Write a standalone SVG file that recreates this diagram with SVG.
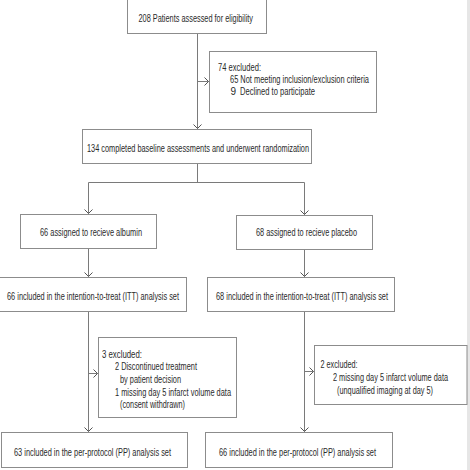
<svg xmlns="http://www.w3.org/2000/svg" width="470" height="470" viewBox="0 0 470 470">
<defs>
<style>
.box{fill:#fff;stroke:#8c8c8c;stroke-width:1}
.ln{fill:none;stroke:#7a7a7a;stroke-width:1}
text{font-family:"Liberation Sans",Arial,sans-serif;font-size:10px;fill:#2a2a2a}
</style>
<marker id="ah" markerUnits="userSpaceOnUse" markerWidth="12" markerHeight="12" viewBox="-6 -6 12 12" refX="0" refY="0" orient="auto">
<path d="M-4,-4 L0,0 L-4,4" fill="none" stroke="#555" stroke-width="1"/>
</marker>
</defs>
<rect x="0" y="0" width="470" height="470" fill="#fff"/>
<rect x="467" y="0" width="3" height="470" fill="#e6e6e6"/>
<g id="connectors">
<path class="ln" d="M197.5 33.5 V128.5" marker-end="url(#ah)"/>
<path class="ln" d="M197.5 81.5 H208.5" marker-end="url(#ah)"/>
<path class="ln" d="M197.5 163.5 V182.5 M88.5 182.5 H304.5"/>
<path class="ln" d="M88.5 182.5 V213.5" marker-end="url(#ah)"/>
<path class="ln" d="M304.5 182.5 V214.5" marker-end="url(#ah)"/>
<path class="ln" d="M88.5 248.5 V276.5" marker-end="url(#ah)"/>
<path class="ln" d="M304.5 249.5 V276.5" marker-end="url(#ah)"/>
<path class="ln" d="M88.5 311.5 V431.5" marker-end="url(#ah)"/>
<path class="ln" d="M88.5 373.5 H97.5" marker-end="url(#ah)"/>
<path class="ln" d="M304.5 311.5 V431.5" marker-end="url(#ah)"/>
<path class="ln" d="M304.5 371.5 H313.5" marker-end="url(#ah)"/>
</g>
<g id="assessed">
<rect class="box" x="127.5" y="-1" width="139" height="34.5"/>
<text x="138.5" y="21.5" textLength="114.5" lengthAdjust="spacingAndGlyphs">208 Patients assessed for eligibility</text>
</g>
<g id="excluded1">
<rect class="box" x="209.5" y="51.5" width="167" height="61"/>
<text x="218" y="71" textLength="43" lengthAdjust="spacingAndGlyphs">74 excluded:</text>
<text x="230" y="83" textLength="139" lengthAdjust="spacingAndGlyphs">65 Not meeting inclusion/exclusion criteria</text>
<text x="230.5" y="95">9</text>
<text x="240" y="95" textLength="75" lengthAdjust="spacingAndGlyphs">Declined to participate</text>
</g>
<g id="randomized">
<rect class="box" x="82.5" y="129.5" width="229" height="34"/>
<text x="87" y="151.5" textLength="222" lengthAdjust="spacingAndGlyphs">134 completed baseline assessments and underwent randomization</text>
</g>
<g id="albumin">
<rect class="box" x="20.5" y="214.5" width="136" height="34"/>
<text x="40" y="235.5" textLength="102" lengthAdjust="spacingAndGlyphs">66 assigned to recieve albumin</text>
</g>
<g id="placebo">
<rect class="box" x="236.5" y="215.5" width="136" height="34"/>
<text x="256" y="235.5" textLength="101" lengthAdjust="spacingAndGlyphs">68 assigned to recieve placebo</text>
</g>
<g id="ittL">
<rect class="box" x="-1" y="277.5" width="187.5" height="34"/>
<text x="7" y="299.5" textLength="172" lengthAdjust="spacingAndGlyphs">66 included in the intention-to-treat (ITT) analysis set</text>
</g>
<g id="ittR">
<rect class="box" x="207.5" y="277.5" width="187" height="34"/>
<text x="216" y="299.5" textLength="172" lengthAdjust="spacingAndGlyphs">68 included in the intention-to-treat (ITT) analysis set</text>
</g>
<g id="excluded2">
<rect class="box" x="98.5" y="337.5" width="138" height="80"/>
<text x="102" y="357.5" textLength="40" lengthAdjust="spacingAndGlyphs">3 excluded:</text>
<text x="115" y="370.2" textLength="82" lengthAdjust="spacingAndGlyphs">2 Discontinued treatment</text>
<text x="120" y="383" textLength="61" lengthAdjust="spacingAndGlyphs">by patient decision</text>
<text x="115" y="395.7" textLength="116" lengthAdjust="spacingAndGlyphs">1 missing day 5 infarct volume data</text>
<text x="120" y="408.4" textLength="65" lengthAdjust="spacingAndGlyphs">(consent withdrawn)</text>
</g>
<g id="excluded3">
<rect class="box" x="314.5" y="345.5" width="152.5" height="59"/>
<text x="320.5" y="367.5" textLength="37" lengthAdjust="spacingAndGlyphs">2 excluded:</text>
<text x="333" y="381" textLength="115" lengthAdjust="spacingAndGlyphs">2 missing day 5 infarct volume data</text>
<text x="337" y="394" textLength="96" lengthAdjust="spacingAndGlyphs">(unqualified imaging at day 5)</text>
</g>
<g id="ppL">
<rect class="box" x="1.5" y="432.5" width="186" height="35"/>
<text x="14" y="455.5" textLength="157" lengthAdjust="spacingAndGlyphs">63 included in the per-protocol (PP) analysis set</text>
</g>
<g id="ppR">
<rect class="box" x="205.5" y="432.5" width="187" height="35"/>
<text x="219" y="455.5" textLength="157" lengthAdjust="spacingAndGlyphs">66 included in the per-protocol (PP) analysis set</text>
</g>
</svg>
